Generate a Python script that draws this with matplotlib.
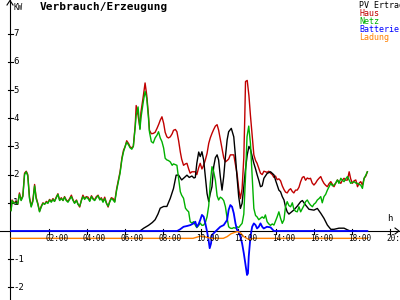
import matplotlib
matplotlib.use("Agg")
import matplotlib.pyplot as plt

# Zeit in Stunden, Leistung in kW
t_haus = [0.0, 0.05, 0.15, 0.27, 0.35, 0.44, 0.53, 0.62, 0.71, 0.8, 0.88, 0.97, 1.06, 1.15, 1.24, 1.32,
          1.41, 1.5, 1.59, 1.68, 1.77, 1.86, 1.94, 2.03, 2.12, 2.21, 2.29, 2.38, 2.47, 2.56, 2.65, 2.74,
          2.82, 2.91, 3.0, 3.09, 3.18, 3.27, 3.35, 3.45, 3.53, 3.62, 3.71, 3.79, 3.88, 3.97, 4.06, 4.15,
          4.24, 4.33, 4.41, 4.5, 4.59, 4.68, 4.76, 4.85, 4.94, 5.03, 5.12, 5.2, 5.29, 5.38, 5.47, 5.57,
          5.66, 5.75, 5.85, 5.93, 6.02, 6.1, 6.2, 6.28, 6.37, 6.45, 6.55, 6.6, 6.7, 6.8, 6.85, 6.98,
          7.07, 7.16, 7.25, 7.3, 7.4, 7.5, 7.6, 7.7, 7.8, 7.87, 7.96, 8.05, 8.13, 8.22, 8.3, 8.4,
          8.5, 8.57, 8.67, 8.75, 8.84, 8.93, 9.0, 9.1, 9.2, 9.28, 9.37, 9.45, 9.54, 9.63, 9.72, 9.8,
          9.9, 9.98, 10.07, 10.16, 10.25, 10.34, 10.43, 10.51, 10.6, 10.69, 10.78, 10.87, 10.95, 11.04, 11.13, 11.22,
          11.31, 11.4, 11.48, 11.57, 11.66, 11.75, 11.84, 11.93, 12.01, 12.1, 12.19, 12.28, 12.33, 12.37, 12.46, 12.55,
          12.63, 12.72, 12.81, 12.9, 12.98, 13.07, 13.16, 13.25, 13.34, 13.42, 13.51, 13.6, 13.69, 13.78, 13.87, 13.95,
          14.04, 14.13, 14.22, 14.31, 14.4, 14.48, 14.57, 14.66, 14.75, 14.84, 14.92, 15.01, 15.1, 15.19, 15.28, 15.37,
          15.45, 15.54, 15.63, 15.72, 15.8, 15.89, 15.98, 16.07, 16.16, 16.25, 16.34, 16.42, 16.51, 16.6, 16.69, 16.78,
          16.87, 16.96, 17.04, 17.13, 17.22, 17.3, 17.4, 17.48, 17.57, 17.66, 17.75, 17.84, 17.92, 18.01, 18.1, 18.19,
          18.28, 18.37, 18.45, 18.54, 18.63, 18.72, 18.8]
haus = [0.75, 1.1, 1.0, 1.05, 0.95, 1.35, 1.1, 1.25, 2.05, 2.12, 2.0, 1.2, 0.88, 1.1, 1.65, 1.2,
        0.98, 0.7, 0.88, 1.0, 0.95, 1.05, 1.0, 1.12, 1.05, 1.15, 1.05, 1.2, 1.32, 1.1, 1.18, 1.08,
        1.22, 1.1, 1.05, 1.15, 1.27, 1.1, 1.0, 1.1, 0.95, 0.85, 1.1, 1.27, 1.15, 1.22, 1.2, 1.08,
        1.25, 1.15, 1.1, 1.22, 1.27, 1.12, 1.18, 1.05, 1.2, 1.0, 0.85, 1.05, 1.18, 1.15, 1.05, 1.5,
        1.8, 2.1, 2.6, 2.86, 3.0, 3.2, 3.1, 2.98, 2.95, 3.0, 3.75, 4.45, 4.1, 3.64, 4.2, 4.8,
        5.25, 4.8, 4.1, 3.57, 3.45, 3.46, 3.5, 3.64, 3.8, 3.93, 4.05, 3.82, 3.5, 3.34, 3.3, 3.34,
        3.45, 3.57, 3.6, 3.52, 3.2, 2.8, 2.55, 2.33, 2.38, 2.4, 2.2, 2.05, 2.1, 2.1, 2.1, 2.0,
        2.25, 2.4, 2.2, 2.33, 2.52, 2.75, 3.11, 3.3, 3.46, 3.6, 3.72, 3.77, 3.58, 3.25, 2.9, 2.6,
        2.45, 2.5, 2.55, 2.7, 2.7, 2.7, 2.35, 2.0, 1.5, 1.15, 1.5, 2.6, 4.0, 5.3, 5.34, 4.8,
        4.1, 3.4, 2.7, 2.5, 2.4, 2.22, 2.05, 2.0, 2.12, 2.1, 2.08, 2.12, 2.05, 2.0, 1.9, 1.95,
        1.82, 1.85, 1.78, 1.6, 1.47, 1.38, 1.35, 1.45, 1.5, 1.4, 1.35, 1.45, 1.45, 1.55, 1.75, 1.9,
        1.93, 1.8, 1.88, 1.85, 1.87, 1.7, 1.63, 1.7, 1.8, 1.87, 1.93, 1.8, 1.69, 1.62, 1.57, 1.68,
        1.75, 1.65, 1.57, 1.7, 1.81, 1.75, 1.69, 1.8, 1.87, 1.8, 1.81, 2.1, 1.85, 1.69, 1.78, 1.81,
        1.57, 1.7, 1.75, 1.63, 1.87, 1.95, 2.1]

t_netz = [0.0, 0.05, 0.15, 0.27, 0.35, 0.44, 0.53, 0.62, 0.71, 0.8, 0.88, 0.97, 1.06, 1.15, 1.24, 1.32,
          1.41, 1.5, 1.59, 1.68, 1.77, 1.86, 1.94, 2.03, 2.12, 2.21, 2.29, 2.38, 2.47, 2.56, 2.65, 2.74,
          2.82, 2.91, 3.0, 3.09, 3.18, 3.27, 3.35, 3.45, 3.53, 3.62, 3.71, 3.79, 3.88, 3.97, 4.06, 4.15,
          4.24, 4.33, 4.41, 4.5, 4.59, 4.68, 4.76, 4.85, 4.94, 5.03, 5.12, 5.2, 5.29, 5.38, 5.47, 5.57,
          5.66, 5.75, 5.85, 5.93, 6.02, 6.1, 6.2, 6.28, 6.37, 6.45, 6.55, 6.6, 6.7, 6.8, 6.85, 6.98,
          7.07, 7.16, 7.25, 7.3, 7.4, 7.5, 7.6, 7.7, 7.78, 7.87, 7.96, 8.05, 8.13, 8.22, 8.3, 8.4,
          8.5, 8.57, 8.67, 8.75, 8.84, 8.93, 9.0, 9.1, 9.2, 9.28, 9.37, 9.45, 9.54, 9.63, 9.72, 9.8,
          9.9, 9.98, 10.07, 10.16, 10.25, 10.34, 10.43, 10.51, 10.6, 10.69, 10.78, 10.87, 10.95, 11.04, 11.13, 11.22,
          11.31, 11.4, 11.48, 11.57, 11.66, 11.75, 11.84, 11.93, 12.01, 12.1, 12.19, 12.28, 12.37, 12.45, 12.54, 12.63,
          12.72, 12.81, 12.9, 12.98, 13.07, 13.16, 13.25, 13.34, 13.42, 13.51, 13.6, 13.69, 13.78, 13.87, 13.95, 14.04,
          14.13, 14.22, 14.31, 14.4, 14.48, 14.57, 14.66, 14.75, 14.84, 14.92, 15.01, 15.1, 15.19, 15.28, 15.37, 15.45,
          15.54, 15.63, 15.72, 15.8, 15.9, 15.98, 16.07, 16.16, 16.25, 16.34, 16.42, 16.51, 16.6, 16.69, 16.78, 16.87,
          16.96, 17.04, 17.13, 17.22, 17.3, 17.4, 17.48, 17.57, 17.66, 17.75, 17.84, 17.92, 18.01, 18.1, 18.19, 18.28,
          18.37, 18.45, 18.54, 18.63, 18.72, 18.8]
netz = [0.72, 1.08, 0.98, 1.02, 0.95, 1.3, 1.08, 1.22, 2.0, 2.1, 1.95, 1.15, 0.85, 1.05, 1.6, 1.15,
        0.95, 0.68, 0.85, 0.98, 0.95, 1.02, 0.98, 1.1, 1.02, 1.12, 1.05, 1.17, 1.3, 1.08, 1.15, 1.08,
        1.2, 1.08, 1.02, 1.12, 1.22, 1.08, 0.98, 1.08, 0.95, 0.88, 1.08, 1.22, 1.12, 1.2, 1.15, 1.05,
        1.22, 1.12, 1.08, 1.18, 1.25, 1.1, 1.15, 1.02, 1.15, 0.98, 0.88, 1.02, 1.15, 1.1, 1.02, 1.45,
        1.75, 2.05, 2.55, 2.8, 3.0, 3.15, 3.05, 2.95, 2.9, 3.0, 3.7, 4.1, 4.4, 3.6, 4.0, 4.6,
        4.95, 4.7, 4.0, 3.52, 3.17, 3.12, 3.3, 3.4, 3.52, 3.3, 3.17, 2.94, 2.58, 2.52, 2.5, 2.45,
        2.33, 2.38, 2.35, 2.33, 1.87, 1.39, 1.27, 1.16, 0.81, 0.74, 0.68, 0.33, 0.28, 0.33, 0.21, 0.12,
        0.2, 0.28, 0.2, 0.21, 0.3, 0.5, 0.9, 1.7, 2.28, 2.1, 1.8, 1.25, 1.1, 1.2, 1.16, 1.08,
        0.86, 0.45, 0.15, 0.1, 0.09, 0.12, 0.1, 0.15, 0.12, 0.2, 0.27, 0.6, 1.93, 3.34, 3.72, 3.11,
        1.93, 0.8, 0.55, 0.5, 0.4, 0.45, 0.5, 0.45, 0.57, 0.33, 0.25, 0.2, 0.25, 0.21, 0.35, 0.5,
        0.68, 0.45, 0.27, 0.4, 0.86, 1.04, 0.9, 0.86, 1.0, 0.78, 0.7, 0.68, 0.86, 0.68, 0.8, 0.9,
        1.04, 1.1, 0.99, 0.92, 0.86, 0.95, 1.0, 1.1, 1.15, 1.22, 1.0, 1.22, 1.3, 1.45, 1.57, 1.69,
        1.6, 1.63, 1.7, 1.81, 1.69, 1.87, 1.8, 1.75, 1.85, 1.93, 1.8, 1.69, 1.72, 1.75, 1.7, 1.69,
        1.65, 1.63, 1.51, 1.87, 1.98, 2.1]

t_pv = [6.8, 7.0, 7.25, 7.45, 7.6, 7.75, 7.87, 8.05, 8.22, 8.4, 8.57, 8.71, 8.84, 9.0, 9.15, 9.28,
        9.4, 9.54, 9.65, 9.72, 9.8, 9.9, 9.98, 10.07, 10.16, 10.25, 10.34, 10.43, 10.51, 10.6, 10.69, 10.78,
        10.87, 10.95, 11.04, 11.13, 11.22, 11.31, 11.4, 11.48, 11.62, 11.75, 11.84, 11.92, 12.01, 12.1, 12.19, 12.28,
        12.37, 12.46, 12.55, 12.63, 12.72, 12.81, 12.9, 12.98, 13.07, 13.16, 13.25, 13.34, 13.51, 13.69, 13.87, 13.95,
        14.04, 14.13, 14.22, 14.31, 14.4, 14.48, 14.57, 14.66, 14.75, 14.84, 14.93, 15.1, 15.28, 15.37, 15.54, 15.72,
        15.98, 16.16, 16.34, 16.51, 16.69, 16.87, 17.04, 17.3, 17.57, 17.75, 17.9, 18.2]
pv = [0.0, 0.1, 0.2, 0.3, 0.4, 0.6, 0.81, 0.87, 0.87, 1.16, 1.51, 1.98, 1.98, 1.81, 1.9, 1.98,
      1.9, 1.95, 1.88, 1.9, 2.4, 2.8, 2.64, 2.81, 2.52, 1.93, 1.33, 1.04, 1.33, 1.57, 2.28, 2.6,
      2.7, 2.52, 1.93, 1.45, 1.93, 2.64, 3.23, 3.52, 3.64, 3.34, 2.64, 1.93, 1.22, 0.8, 0.98, 1.57,
      2.2, 2.7, 3.0, 2.9, 2.65, 2.4, 2.2, 2.0, 1.8, 1.57, 1.6, 1.87, 2.04, 2.1, 1.99, 1.81,
      1.63, 1.45, 1.39, 1.22, 1.1, 0.86, 0.68, 0.6, 0.65, 0.7, 0.75, 0.88, 1.04, 1.08, 0.92, 0.77,
      0.74, 0.8, 0.63, 0.45, 0.21, 0.06, 0.06, 0.1, 0.1, 0.04, 0.0, 0.0]

t_batt = [0.0, 8.76, 8.9, 9.1, 9.3, 9.46, 9.63, 9.72, 9.8, 9.9, 9.98, 10.07, 10.16, 10.25, 10.34, 10.42,
          10.48, 10.55, 10.6, 10.69, 10.87, 11.04, 11.22, 11.4, 11.48, 11.57, 11.66, 11.75, 11.84, 11.92, 12.01, 12.1,
          12.19, 12.28, 12.36, 12.45, 12.5, 12.54, 12.63, 12.72, 12.81, 12.9, 12.98, 13.07, 13.16, 13.25, 13.33, 13.5,
          13.69, 13.87, 18.8]
batt = [0.0, 0.0, 0.05, 0.15, 0.18, 0.21, 0.27, 0.33, 0.15, 0.25, 0.39, 0.57, 0.51, 0.27, -0.02, -0.32,
        -0.61, -0.44, -0.14, -0.08, 0.04, 0.15, 0.21, 0.39, 0.75, 0.92, 0.86, 0.63, 0.27, 0.04, -0.02, -0.2,
        -0.44, -0.79, -1.15, -1.56, -1.5, -0.91, -0.2, 0.15, 0.27, 0.21, 0.09, 0.15, 0.27, 0.15, 0.09, 0.15,
        0.13, 0.0, 0.0]

t_ladung = [0.0, 9.6, 9.8, 10.0, 10.2, 10.4, 10.6, 11.2, 11.4, 11.6, 11.8, 11.95, 12.1, 12.28, 12.54, 12.8, 18.8]
ladung = [-0.26, -0.26, -0.22, -0.18, -0.2, -0.24, -0.26, -0.26, -0.2, -0.1, -0.05, -0.02, -0.06, -0.2, -0.3, -0.26, -0.26]

xticks = [2, 4, 6, 8, 10, 12, 14, 16, 18, 20]
xlabels = ["%02d:00" % h for h in xticks]
yticks = [7, 6, 5, 4, 3, 2, 1, -1, -2]

c_haus = "#c00000"
c_netz = "#00b000"
c_batt = "#0000ff"
c_lad = "#ff8000"

PXH = 1 / 18.95   # Stunden pro Pixel
PXK = 1 / 28.2    # kW pro Pixel
mono = "DejaVu Sans Mono"

fig = plt.figure(figsize=(4, 3), dpi=100)
ax = fig.add_axes([0, 0, 1, 1])
ax.set_xlim(-11.1 * PXH, 388.9 * PXH)
ax.set_ylim(-69 * PXK, 231 * PXK)
ax.axis("off")

yax = -1.1 * PXH
xend = 387.9 * PXH

# Achsen
ax.plot([-11.1 * PXH, xend], [0, 0], color="black", lw=0.8)
ax.plot([xend - 4 * PXH, xend, xend - 4 * PXH], [3 * PXK, 0, -3 * PXK], color="black", lw=0.8)
ax.plot([yax, yax], [-69 * PXK, 231 * PXK], color="black", lw=0.8)
ax.plot([yax - 3 * PXH, yax, yax + 3 * PXH], [226 * PXK, 230.5 * PXK, 226 * PXK], color="black", lw=0.8)

for h, lab in zip(xticks, xlabels):
    ax.plot([h, h], [-2.5 * PXK, 2.5 * PXK], color="black", lw=0.8)
    ax.text(h - 4 * PXH, -3 * PXK, lab, fontsize=5.5, family=mono, ha="left", va="top")
for v in yticks:
    ax.plot([yax - 2.5 * PXH, yax + 2.5 * PXH], [v, v], color="black", lw=0.8)
    ax.text(yax + 3 * PXH, v, str(v), fontsize=6.5, family=mono, ha="left", va="center")

ax.text(yax + 3 * PXH, 228 * PXK, "KW", fontsize=5.5, family=mono, ha="left", va="top")
ax.text(20 - 3 * PXH, 8 * PXK, "h", fontsize=6.5, family=mono, ha="left", va="bottom")

# Kurven
ax.plot(t_haus, haus, color=c_haus, lw=1.0)
ax.plot(t_pv, pv, color="black", lw=1.0)
ax.plot(t_netz, netz, color=c_netz, lw=1.0)
ax.plot(t_batt, batt, color=c_batt, lw=1.3)
ax.plot(t_ladung, ladung, color=c_lad, lw=1.0)

fig.text(40 / 400, 1 - 2 / 300, "Verbrauch/Erzeugung", fontsize=8, family=mono,
         fontweight="bold", ha="left", va="top")

names = ["PV Ertrag", "Haus", "Netz", "Batterie", "Ladung"]
cols = ["black", c_haus, c_netz, c_batt, c_lad]
for i, (n, c) in enumerate(zip(names, cols)):
    fig.text(359 / 400, 1 - (1 + 8 * i) / 300, n, fontsize=6, family=mono, color=c,
             ha="left", va="top")

fig.savefig("out.png", dpi=100)
